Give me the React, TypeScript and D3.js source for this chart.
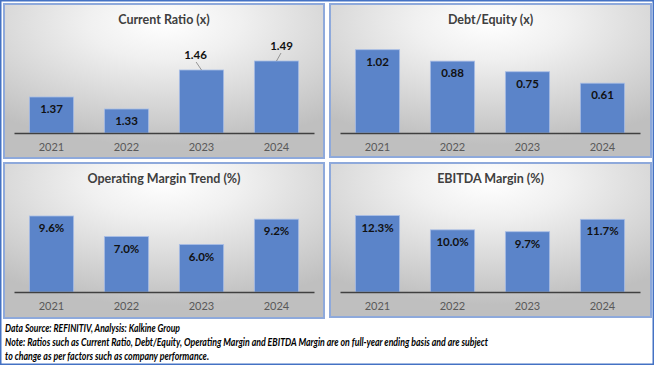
import { useEffect, useRef } from "react";
import * as d3 from "d3";

const years = ["2021", "2022", "2023", "2024"];
const currentRatio = [1.37, 1.33, 1.46, 1.49];
const debtEquity = [1.02, 0.88, 0.75, 0.61];
const operatingMargin = [9.6, 7.0, 6.0, 9.2];
const ebitdaMargin = [12.3, 10.0, 9.7, 11.7];
const titles = ["Current Ratio (x)", "Debt/Equity (x)", "Operating Margin Trend (%)", "EBITDA Margin (%)"];
const footerLines = [
  "Data Source: REFINITIV, Analysis: Kalkine Group",
  "Note: Ratios such as Current Ratio, Debt/Equity, Operating Margin and EBITDA Margin are on full-year ending basis and are subject",
  "to change as per factors such as company performance.",
];

const W = 654;
const H = 366;
const FONT = "Lato, 'Open Sans', sans-serif";

type PanelProps = {
  x: number;
  y: number;
  w: number;
  h: number;
  title: string;
  values: number[];
  domain: [number, number];
  plotH: number;
  fmt: (v: number) => string;
  outside?: { idx: number; dx: number }[];
};

function Panel(props: PanelProps) {
  const { x, y, w, h, title, values, domain, plotH, fmt, outside = [] } = props;
  const axisRef = useRef<SVGGElement>(null);

  const base = y + 129;
  const xScale = d3.scaleBand<string>().domain(years).range([x + 10, x + 310]).paddingInner(0.41).paddingOuter(0.205);
  const yScale = d3.scaleLinear().domain(domain).range([base, base - plotH]);

  useEffect(() => {
    const g = d3.select(axisRef.current);
    g.selectAll("*").remove();
    g.call(d3.axisBottom(xScale).tickSize(0).tickSizeOuter(0).tickPadding(10));
    g.select(".domain").attr("stroke", "#404040").attr("stroke-width", 1.6);
    g.selectAll("text")
      .attr("fill", "#595959")
      .style("font-family", FONT)
      .style("font-size", "11px");
  }, [x, y]);

  return (
    <g>
      <rect x={x} y={y} width={w} height={h} fill="url(#panelBg)" stroke="#8EA9DB" strokeWidth={2} />
      <text
        x={x + w / 2}
        y={y + 15.5}
        textAnchor="middle"
        dominantBaseline="central"
        fontFamily={FONT}
        fontWeight="bold"
        fontSize={12.5}
        fill="#404040"
      >
        {title}
      </text>
      {values.map((v, i) => {
        const bx = xScale(years[i])!;
        const bw = xScale.bandwidth();
        const top = yScale(v);
        const out = outside.find((o) => o.idx === i);
        const cx = bx + bw / 2;
        if (out) {
          const lx = cx + out.dx;
          const ly = top - 16;
          return (
            <g key={i}>
              <rect x={bx} y={top} width={bw} height={base - top} fill="#5B84C9" stroke="#A9BEE6" strokeWidth={0.8} />
              <line x1={cx} y1={top} x2={cx + out.dx * 0.9} y2={ly + 8} stroke="#7F7F7F" strokeWidth={0.8} />
              <text x={lx} y={ly} textAnchor="middle" dominantBaseline="central" fontFamily={FONT} fontWeight="bold" fontSize={11.5} fill="#111">
                {fmt(v)}
              </text>
            </g>
          );
        }
        return (
          <g key={i}>
            <rect x={bx} y={top} width={bw} height={base - top} fill="#5B84C9" stroke="#A9BEE6" strokeWidth={0.8} />
            <text x={cx} y={top + 11.5} textAnchor="middle" dominantBaseline="central" fontFamily={FONT} fontWeight="bold" fontSize={11.5} fill="#111">
              {fmt(v)}
            </text>
          </g>
        );
      })}
      <g ref={axisRef} transform={`translate(0,${base})`} />
    </g>
  );
}

export default function App() {
  const f2 = (v: number) => v.toFixed(2);
  const pct = (v: number) => v.toFixed(1) + "%";
  return (
    <svg width={W} height={H} style={{ position: "absolute", left: 0, top: 0, background: "#fff" }}>
      <defs>
        <radialGradient id="panelBg" cx="0.5" cy="0.12" r="0.8">
          <stop offset="0" stopColor="#FFFFFF" />
          <stop offset="0.3" stopColor="#F0F0F0" />
          <stop offset="1" stopColor="#BFBFBF" />
        </radialGradient>
      </defs>
      <rect x={0.75} y={0.75} width={W - 1.5} height={H - 2.5} fill="#fff" stroke="#4472C4" strokeWidth={1.5} />
      <Panel x={4} y={4} w={320} h={154} title={titles[0]} values={currentRatio} domain={[1.25, 1.55]} plotH={90} fmt={f2}
        outside={[{ idx: 2, dx: -6 }, { idx: 3, dx: 5 }]} />
      <Panel x={330} y={4} w={321} h={153} title={titles[1]} values={debtEquity} domain={[0, 1.2]} plotH={98} fmt={f2} />
      <Panel x={4} y={163} w={320} h={155} title={titles[2]} values={operatingMargin} domain={[0, 12]} plotH={95} fmt={pct} />
      <Panel x={330} y={163} w={321} h={154} title={titles[3]} values={ebitdaMargin} domain={[0, 14]} plotH={87} fmt={pct} />
      <g fontFamily={FONT} fontWeight="bold" fontStyle="italic" fontSize={10.5} fill="#000">
        <text x={5} y={331.5} textLength={175} lengthAdjust="spacingAndGlyphs">{footerLines[0]}</text>
        <text x={5} y={345.5} textLength={483} lengthAdjust="spacingAndGlyphs">{footerLines[1]}</text>
        <text x={5} y={359.5} textLength={204} lengthAdjust="spacingAndGlyphs">{footerLines[2]}</text>
      </g>
    </svg>
  );
}
